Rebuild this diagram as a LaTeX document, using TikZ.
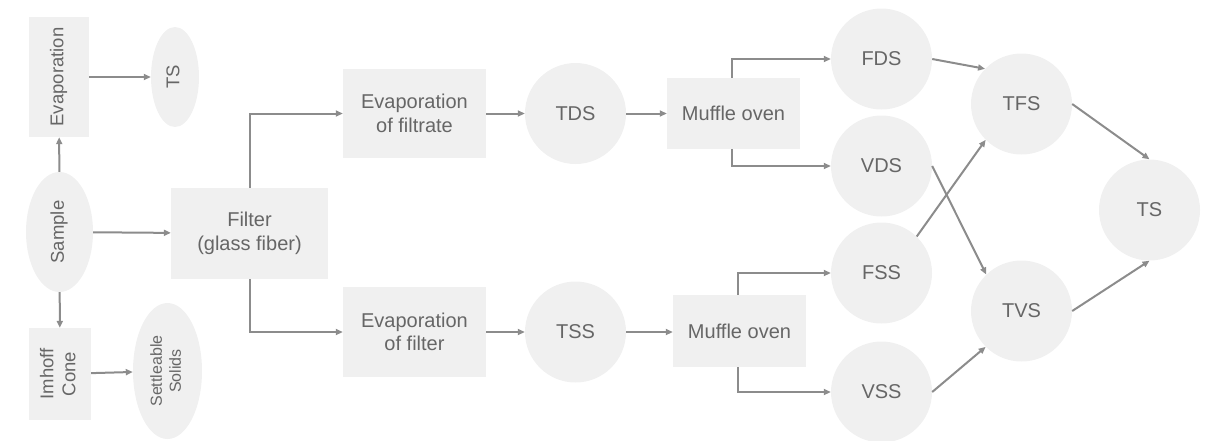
\documentclass[tikz,border=0pt]{standalone}
\usepackage{fontspec}
\setmainfont{Liberation Sans}
\usepackage{graphicx}
\usetikzlibrary{shapes.geometric,arrows.meta}
\definecolor{boxfill}{HTML}{F0F0F0}
\definecolor{txt}{HTML}{666666}
\definecolor{wire}{HTML}{8C8C8C}
\tikzset{
  base/.style={fill=boxfill, draw=none, text=txt, inner sep=0pt, align=center,
    font=\fontsize{20}{23.5}\selectfont},
  stepbox/.style={base, rectangle},
  disc/.style={base, circle, minimum size=101pt},
  oval/.style={base, ellipse},
  flow/.style={draw=wire, line width=2pt, -{Triangle[length=7pt,width=6pt]}},
}
\newcommand{\vtext}[1]{\rotatebox{90}{\begin{tabular}{@{}c@{}}#1\end{tabular}}}
\begin{document}
\begin{tikzpicture}[x=1pt,y=-1pt]
\useasboundingbox (0,0) rectangle (1207,440);
\begin{scope}
\clip (0,0) rectangle (1207,440);
% left column: whole-sample tests
\node[stepbox, minimum width=60pt, minimum height=120pt, font=\fontsize{18.5}{22}\selectfont] (evap) at (59,77) {\vtext{Evaporation}};
\node[oval, minimum width=48pt, minimum height=100pt, font=\fontsize{18.5}{22}\selectfont] (ts1) at (175,77) {\vtext{TS}};
\node[oval, minimum width=67pt, minimum height=120pt, font=\fontsize{18.5}{22}\selectfont] (sample) at (59.5,232) {\vtext{Sample}};
\node[stepbox, minimum width=62pt, minimum height=92pt, font=\fontsize{18.5}{22}\selectfont] (imhoff) at (60,374) {\vtext{Imhoff\\Cone}};
\node[oval, minimum width=69pt, minimum height=136pt, font=\fontsize{16}{19}\selectfont] (settle) at (167.5,371) {\vtext{Settleable\\Solids}};
\node[stepbox, minimum width=157pt, minimum height=91pt] (filter) at (249.5,233.5) {Filter\\(glass fiber)};

% dissolved solids branch
\node[stepbox, minimum width=143pt, minimum height=89pt] (evf) at (414.5,113.5) {Evaporation\\of filtrate};
\node[disc] (tds) at (575.5,113.5) {TDS};
\node[stepbox, minimum width=133pt, minimum height=71pt] (mo1) at (733.5,113.5) {Muffle oven};
\node[disc] (fds) at (881.5,59) {FDS};
\node[disc] (vds) at (881.5,166) {VDS};

% suspended solids branch
\node[stepbox, minimum width=143pt, minimum height=90pt] (evs) at (414.5,332) {Evaporation\\of filter};
\node[disc] (tss) at (575.5,332) {TSS};
\node[stepbox, minimum width=133pt, minimum height=72pt] (mo2) at (739.5,331) {Muffle oven};
\node[disc] (fss) at (881.5,273) {FSS};
\node[disc] (vss) at (881.5,392) {VSS};

% totals
\node[disc] (tfs) at (1021.5,104) {TFS};
\node[disc] (tvs) at (1021.5,311) {TVS};
\node[disc] (ts2) at (1149.5,210) {TS};

% connectors
\draw[flow] (evap) -- (ts1);
\draw[flow] (sample) -- (evap);
\draw[flow] (sample) -- (imhoff);
\draw[flow] (imhoff) -- (settle);
\draw[flow] (sample) -- (filter);
\draw[flow] (filter.north) |- (evf.west);
\draw[flow] (filter.south) |- (evs.west);
\draw[flow] (evf) -- (tds);
\draw[flow] (tds) -- (mo1);
\draw[flow] ([xshift=-1.5pt]mo1.north) |- (fds.west);
\draw[flow] ([xshift=-1.5pt]mo1.south) |- (vds.west);
\draw[flow] (evs) -- (tss);
\draw[flow] (tss) -- (tss -| mo2.west);
\draw[flow] ([xshift=-1.5pt]mo2.north) |- (fss.west);
\draw[flow] ([xshift=-1.5pt]mo2.south) |- (vss.west);
\draw[flow] (fds.east) -- (tfs.136);
\draw[flow] (vds.east) -- (tvs.134);
\draw[flow] (fss.46) -- (tfs.225);
\draw[flow] (vss.east) -- (tvs.225);
\draw[flow] (tfs.east) -- (ts2.north);
\draw[flow] (tvs.east) -- (ts2.south);
\end{scope}
\end{tikzpicture}
\end{document}
